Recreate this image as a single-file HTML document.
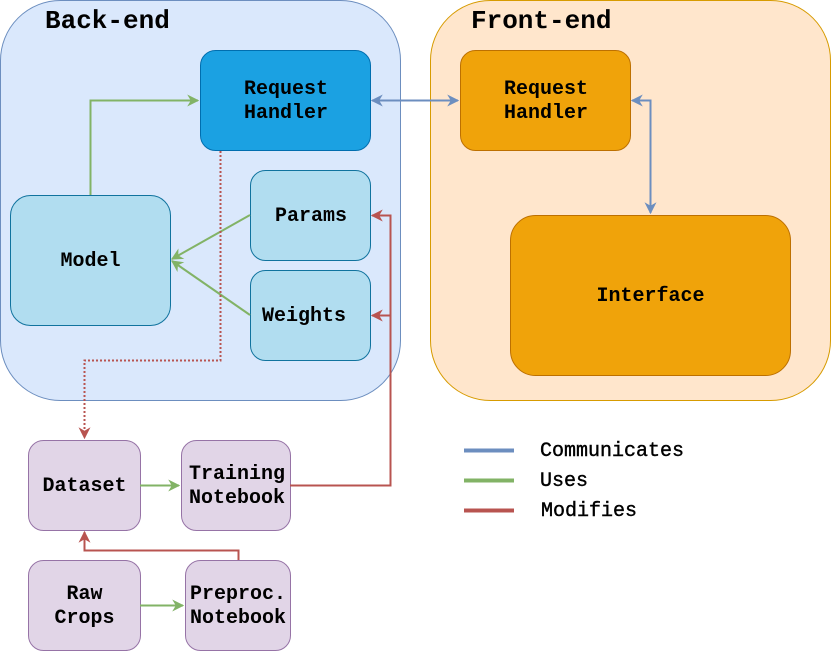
<!DOCTYPE html>
<html><head><meta charset="utf-8"><style>
html,body{margin:0;padding:0;background:#fff;}
svg{display:block;}
text{font-family:"Liberation Mono","DejaVu Sans Mono",monospace;font-weight:bold;font-size:20px;fill:#000;}
</style></head><body>
<svg width="831" height="651" viewBox="0 0 831 651" xmlns="http://www.w3.org/2000/svg">
<defs>
<marker id="ab" viewBox="0 0 10 10" refX="9" refY="5" markerWidth="12" markerHeight="12" orient="auto-start-reverse" markerUnits="userSpaceOnUse"><path d="M0,0 L10,5 L0,10 L3,5 Z" fill="#6c8ebf"/></marker>
<marker id="ag" viewBox="0 0 10 10" refX="9" refY="5" markerWidth="12" markerHeight="12" orient="auto" markerUnits="userSpaceOnUse"><path d="M0,0 L10,5 L0,10 L3,5 Z" fill="#82b366"/></marker>
<marker id="ar" viewBox="0 0 10 10" refX="9" refY="5" markerWidth="12" markerHeight="12" orient="auto" markerUnits="userSpaceOnUse"><path d="M0,0 L10,5 L0,10 L3,5 Z" fill="#b85450"/></marker>
</defs>
<rect x="0.5" y="0.5" width="400" height="400" rx="60" fill="#dae8fc" stroke="#6c8ebf"/>
<rect x="430.5" y="0.5" width="400" height="400" rx="60" fill="#ffe6cc" stroke="#d79b00"/>
<text x="45" y="28" style="font-size:26px">Back-end</text>
<text x="471" y="28" style="font-size:26px">Front-end</text>

<rect x="200.5" y="50.5" width="170" height="100" rx="15" fill="#1ba1e2" stroke="#006eaf"/>
<text x="286" y="94" text-anchor="middle">Request</text>
<text x="286" y="118" text-anchor="middle">Handler</text>
<rect x="250.5" y="170.5" width="120" height="90" rx="15" fill="#b1ddf0" stroke="#10739e"/>
<text x="311" y="221" text-anchor="middle">Params</text>
<rect x="250.5" y="270.5" width="120" height="90" rx="15" fill="#b1ddf0" stroke="#10739e"/>
<text x="304" y="321" text-anchor="middle">Weights</text>
<rect x="10.5" y="195.5" width="160" height="130" rx="20" fill="#b1ddf0" stroke="#10739e"/>
<text x="90.5" y="266" text-anchor="middle">Model</text>

<rect x="460.5" y="50.5" width="170" height="100" rx="15" fill="#f0a30a" stroke="#bd7000"/>
<text x="546" y="94" text-anchor="middle">Request</text>
<text x="546" y="118" text-anchor="middle">Handler</text>
<rect x="510.5" y="215.5" width="280" height="160" rx="25" fill="#f0a30a" stroke="#bd7000"/>
<text x="650.5" y="301" text-anchor="middle">Interface</text>

<rect x="28.5" y="440.5" width="112" height="90" rx="15" fill="#e1d5e7" stroke="#9673a6"/>
<text x="84.5" y="491" text-anchor="middle">Dataset</text>
<rect x="181.5" y="440.5" width="109" height="90" rx="15" fill="#e1d5e7" stroke="#9673a6"/>
<text x="237" y="479" text-anchor="middle">Training</text>
<text x="237" y="503" text-anchor="middle">Notebook</text>
<rect x="28.5" y="560.5" width="112" height="90" rx="15" fill="#e1d5e7" stroke="#9673a6"/>
<text x="84.5" y="599" text-anchor="middle">Raw</text>
<text x="84.5" y="623" text-anchor="middle">Crops</text>
<rect x="185.5" y="560.5" width="105" height="90" rx="15" fill="#e1d5e7" stroke="#9673a6"/>
<text x="238" y="599" text-anchor="middle">Preproc.</text>
<text x="238" y="623" text-anchor="middle">Notebook</text>

<g fill="none" stroke-width="2">
<path d="M372,100.5 H458" stroke="#6c8ebf" marker-start="url(#ab)" marker-end="url(#ab)"/>
<path d="M632,100.5 H650.5 V213" stroke="#6c8ebf" marker-start="url(#ab)" marker-end="url(#ab)"/>
<path d="M90.5,195 V100.5 H198" stroke="#82b366" marker-end="url(#ag)"/>
<path d="M250,215 L172,259" stroke="#82b366" marker-end="url(#ag)"/>
<path d="M250,315 L172,261" stroke="#82b366" marker-end="url(#ag)"/>
<path d="M140,485.5 H179" stroke="#82b366" marker-end="url(#ag)"/>
<path d="M140,605.5 H183" stroke="#82b366" marker-end="url(#ag)"/>
<path d="M290,485.5 H390.5 V215.5 H372" stroke="#b85450" marker-end="url(#ar)"/>
<path d="M390.5,315.5 H372" stroke="#b85450" marker-end="url(#ar)"/>
<path d="M238.5,560 V550.5 H84.5 V532" stroke="#b85450" marker-end="url(#ar)"/>
<path d="M220.5,151 V360.5 H84.5 V438" stroke="#b85450" stroke-dasharray="2,2" marker-end="url(#ar)"/>
<path d="M464,450.5 H514" stroke="#6c8ebf" stroke-width="4"/>
<path d="M464,480.5 H514" stroke="#82b366" stroke-width="4"/>
<path d="M464,510.5 H514" stroke="#b85450" stroke-width="4"/>
</g>
<text x="540" y="456" style="font-weight:normal;stroke:#000;stroke-width:0.4">Communicates</text>
<text x="540" y="486" style="font-weight:normal;stroke:#000;stroke-width:0.4">Uses</text>
<text x="541" y="516" style="font-weight:normal;stroke:#000;stroke-width:0.4">Modifies</text>
</svg>
</body></html>
